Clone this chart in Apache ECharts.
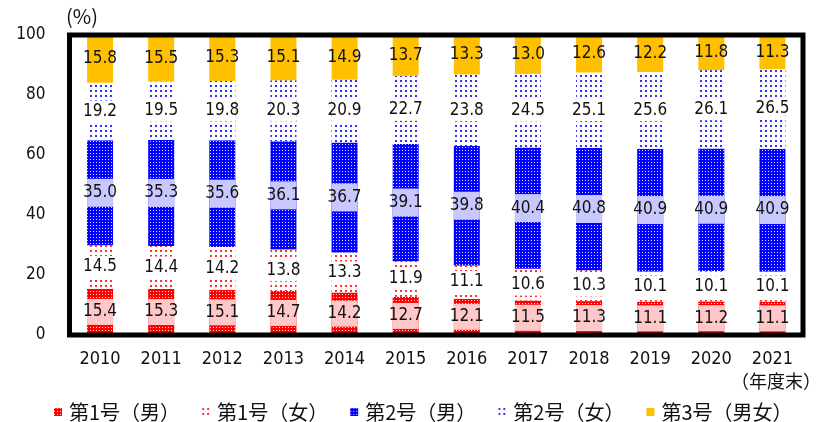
<!DOCTYPE html>
<html>
<head>
<meta charset="utf-8">
<script src="https://cdn.jsdelivr.net/npm/echarts@6/dist/echarts.min.js"></script>
<style>
  html, body { margin: 0; padding: 0; background: #fff; }
  #chart { width: 820px; height: 422px; }
</style>
</head>
<body>
<div id="chart"></div>
<script>
// Fiscal years (end of year)
const years = ['2010', '2011', '2012', '2013', '2014', '2015', '2016', '2017', '2018', '2019', '2020', '2021'];

// Share of each insured category, % (stacked bottom to top)
const no1Male   = [15.4, 15.3, 15.1, 14.7, 14.2, 12.7, 12.1, 11.5, 11.3, 11.1, 11.2, 11.1];
const no1Female = [14.5, 14.4, 14.2, 13.8, 13.3, 11.9, 11.1, 10.6, 10.3, 10.1, 10.1, 10.1];
const no2Male   = [35.0, 35.3, 35.6, 36.1, 36.7, 39.1, 39.8, 40.4, 40.8, 40.9, 40.9, 40.9];
const no2Female = [19.2, 19.5, 19.8, 20.3, 20.9, 22.7, 23.8, 24.5, 25.1, 25.6, 26.1, 26.5];
const no3Both   = [15.8, 15.5, 15.3, 15.1, 14.9, 13.7, 13.3, 13.0, 12.6, 12.2, 11.8, 11.3];

const seriesNames = ['第1号（男）', '第1号（女）', '第2号（男）', '第2号（女）', '第3号（男女）'];
const yTicks = [0, 20, 40, 60, 80, 100];

const NUM_FONT = "'DejaVu Sans Condensed', 'Liberation Sans', sans-serif";
const JP_FONT = "'Noto Sans CJK JP', sans-serif";

function valueLabel(bg, h) {
  const lab = {
    show: true,
    position: 'inside',
    formatter: p => p.value.toFixed(1),
    color: '#111',
    fontFamily: NUM_FONT,
    fontSize: 17,
    align: 'center',
    verticalAlign: 'middle'
  };
  if (bg) {
    lab.backgroundColor = bg;
    lab.width = 26;
    lab.height = h;
    lab.lineHeight = h;
  }
  return lab;
}

function dense(base) {
  return {
    color: base,
    decal: { symbol: 'rect', symbolSize: 1, color: 'rgba(255,255,255,0.85)', dashArrayX: [1, 2], dashArrayY: [1, 2] }
  };
}
function sparse(dot) {
  return {
    color: '#ffffff',
    decal: { symbol: 'rect', symbolSize: 1, color: dot, dashArrayX: [2, 3], dashArrayY: [2, 3] }
  };
}

function bar(name, data, itemStyle, label) {
  return {
    name: name,
    type: 'bar',
    stack: 'total',
    data: data,
    barWidth: 26,
    itemStyle: itemStyle,
    label: label,
    emphasis: { disabled: true },
    animation: false
  };
}

const chart = echarts.init(document.getElementById('chart'), null, { renderer: 'canvas' });

chart.setOption({
  backgroundColor: '#ffffff',
  animation: false,
  grid: {
    left: 69.5, right: 17, top: 35, bottom: 87,
    show: true, borderColor: '#000', borderWidth: 5, z: 5
  },
  legend: {
    left: 49, top: 397,
    itemWidth: 8, itemHeight: 8, itemGap: 22,
    icon: 'rect',
    textStyle: { fontFamily: JP_FONT, fontSize: 20, color: '#111', padding: [0, 0, 0, 2] },
    data: seriesNames
  },
  xAxis: {
    type: 'category',
    data: years,
    axisLine: { show: false },
    axisTick: { show: false },
    axisLabel: { margin: 15, fontFamily: NUM_FONT, fontSize: 18, color: '#111' }
  },
  yAxis: {
    type: 'value',
    min: yTicks[0], max: yTicks[yTicks.length - 1], interval: 20,
    axisLine: { show: false },
    axisTick: { show: false },
    splitLine: { show: false },
    axisLabel: { margin: 24, fontFamily: NUM_FONT, fontSize: 17, color: '#111' }
  },
  graphic: [
    { type: 'text', left: 66, top: 6, style: { text: '(%)', font: "20px 'Noto Sans CJK JP'", fill: '#111' } },
    { type: 'text', left: 731, top: 372, style: { text: '（年度末）', font: "18px 'Noto Sans CJK JP'", fill: '#111' } }
  ],
  series: [
    bar(seriesNames[0], no1Male, dense('#ff0000'), valueLabel('#ffc8c8', 26)),
    bar(seriesNames[1], no1Female, sparse('#ff3030'), valueLabel('#ffffff', 22)),
    bar(seriesNames[2], no2Male, dense('#0000ff'), valueLabel('#c8c8ff', 28)),
    bar(seriesNames[3], no2Female, sparse('#3030ff'), valueLabel('#ffffff', 22)),
    bar(seriesNames[4], no3Both, { color: '#ffc000' }, valueLabel(null))
  ]
});
</script>
</body>
</html>
